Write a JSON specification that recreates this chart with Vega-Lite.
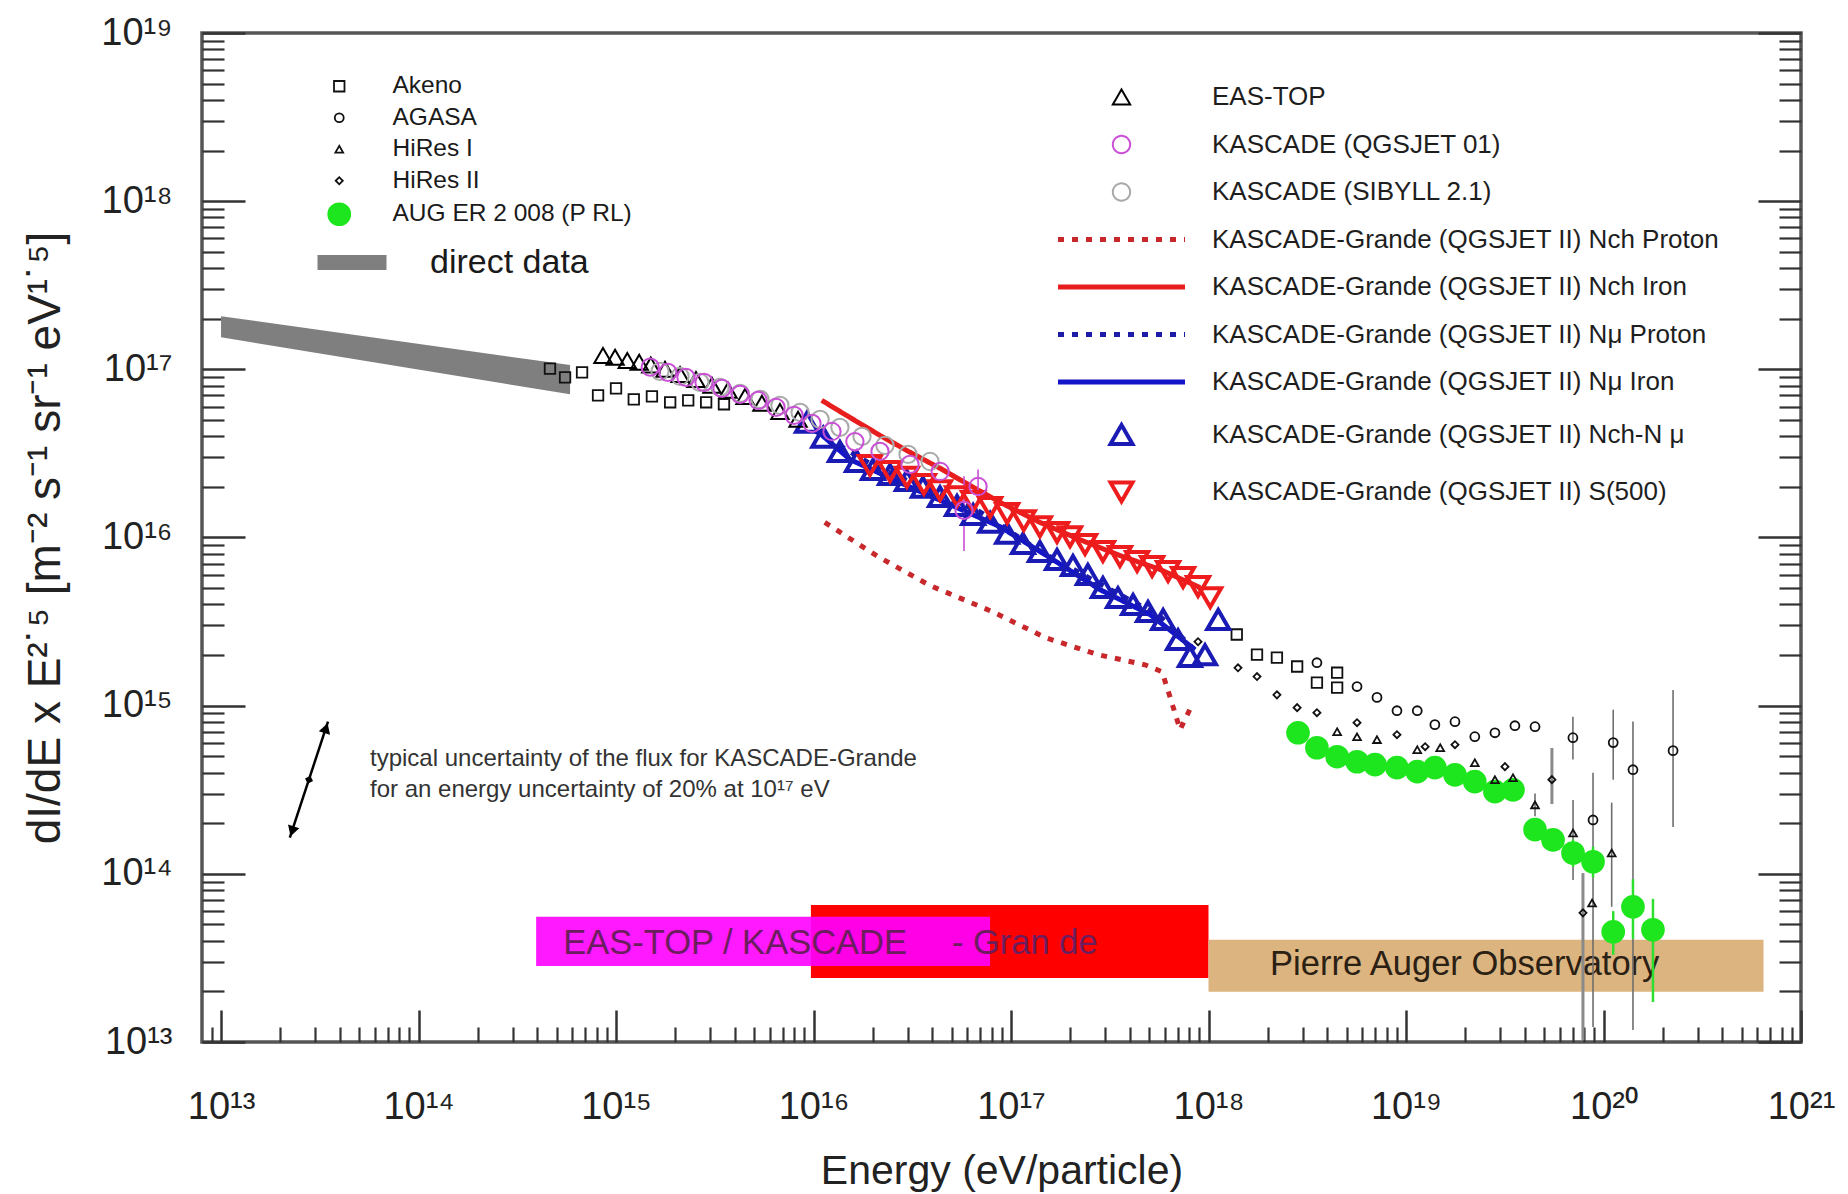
{
  "$schema": "https://vega.github.io/schema/vega-lite/v6.json",
  "width": 1599,
  "height": 1009,
  "autosize": {"type": "none"},
  "padding": {"left": 202, "top": 33, "right": 47, "bottom": 152},
  "background": "white",
  "config": {
    "font": "Liberation Sans",
    "view": {"stroke": "#555555", "strokeWidth": 3.5},
    "axis": {"grid": false, "domain": false, "labelFont": "Liberation Sans", "titleFont": "Liberation Sans"},
    "legend": {"labelFont": "Liberation Sans"}
  },
  "datasets": {
    "axd": [{"E": 1e15, "F": 1e15}],
    "bands": [
      {"band": "KASCADE-Grande", "E": 9.7e15, "E2": 1e18, "F": 2.4e13, "F2": 6.53e13},
      {"band": "EAS-TOP/KASCADE", "E": 3.94e14, "E2": 7.83e16, "F": 2.83e13, "F2": 5.55e13},
      {"band": "Pierre Auger Observatory", "E": 1e18, "E2": 6.46e20, "F": 1.99e13, "F2": 4.05e13}
    ],
    "notes": [
      {"label": "EAS-TOP / KASCADE", "E": 5.4e14, "F": 3.8e13},
      {"label": "- Gran de", "E": 5.02e16, "F": 3.8e13},
      {"label": "Pierre Auger Observatory", "E": 2.05e18, "F": 2.87e13},
      {"label": "typical uncertainty of the flux for KASCADE-Grande", "E": 5.68e13, "F": 4.84e14},
      {"label": "for an energy uncertainty of 20% at 10¹⁷ eV", "E": 5.68e13, "F": 3.16e14}
    ],
    "arrow": [{"E": 2.23e13, "F": 1.64e14, "E2": 3.48e13, "F2": 8.04e14}],
    "heads": [{"end": "top", "E": 3.40e13, "F": 7.35e14}, {"end": "bottom", "E": 2.29e13, "F": 1.79e14}],
    "mid": [{"E": 2.79e13, "F": 3.63e14}],
    "direct": [
      {"series": "direct data", "E": 1e13, "F": 2.07e17, "F2": 1.55e17},
      {"series": "direct data", "E": 5.85e14, "F": 1.06e17, "F2": 7.1e16}
    ],
    "left": [
      {"series": "AUG ER 2 008 (P RL)", "E": 2.84e18, "F": 6.9e14},
      {"series": "AUG ER 2 008 (P RL)", "E": 3.54e18, "F": 5.62e14},
      {"series": "AUG ER 2 008 (P RL)", "E": 4.48e18, "F": 4.97e14},
      {"series": "AUG ER 2 008 (P RL)", "E": 5.65e18, "F": 4.64e14},
      {"series": "AUG ER 2 008 (P RL)", "E": 6.97e18, "F": 4.46e14},
      {"series": "AUG ER 2 008 (P RL)", "E": 9.0e18, "F": 4.28e14},
      {"series": "AUG ER 2 008 (P RL)", "E": 1.14e19, "F": 4.05e14},
      {"series": "AUG ER 2 008 (P RL)", "E": 1.40e19, "F": 4.28e14},
      {"series": "AUG ER 2 008 (P RL)", "E": 1.77e19, "F": 3.88e14},
      {"series": "AUG ER 2 008 (P RL)", "E": 2.23e19, "F": 3.53e14},
      {"series": "AUG ER 2 008 (P RL)", "E": 2.82e19, "F": 3.08e14},
      {"series": "AUG ER 2 008 (P RL)", "E": 3.48e19, "F": 3.16e14},
      {"series": "AUG ER 2 008 (P RL)", "E": 4.5e19, "F": 1.83e14},
      {"series": "AUG ER 2 008 (P RL)", "E": 5.55e19, "F": 1.59e14},
      {"series": "AUG ER 2 008 (P RL)", "E": 7.01e19, "F": 1.33e14},
      {"series": "AUG ER 2 008 (P RL)", "E": 8.85e19, "F": 1.18e14},
      {"series": "AUG ER 2 008 (P RL)", "E": 1.12e20, "F": 4.52e13},
      {"series": "AUG ER 2 008 (P RL)", "E": 1.41e20, "F": 6.37e13},
      {"series": "AUG ER 2 008 (P RL)", "E": 1.78e20, "F": 4.65e13},
      {"series": "Akeno", "E": 4.63e14, "F": 1.01e17},
      {"series": "Akeno", "E": 5.52e14, "F": 8.96e16},
      {"series": "Akeno", "E": 6.73e14, "F": 9.6e16},
      {"series": "Akeno", "E": 8.11e14, "F": 7.0e16},
      {"series": "Akeno", "E": 1.0e15, "F": 7.71e16},
      {"series": "Akeno", "E": 1.23e15, "F": 6.63e16},
      {"series": "Akeno", "E": 1.52e15, "F": 6.9e16},
      {"series": "Akeno", "E": 1.88e15, "F": 6.37e16},
      {"series": "Akeno", "E": 2.32e15, "F": 6.54e16},
      {"series": "Akeno", "E": 2.86e15, "F": 6.37e16},
      {"series": "Akeno", "E": 3.52e15, "F": 6.2e16},
      {"series": "Akeno", "E": 1.39e18, "F": 2.65e15},
      {"series": "Akeno", "E": 1.76e18, "F": 2.01e15},
      {"series": "Akeno", "E": 2.22e18, "F": 1.93e15},
      {"series": "Akeno", "E": 2.81e18, "F": 1.71e15},
      {"series": "Akeno", "E": 3.54e18, "F": 1.37e15},
      {"series": "Akeno", "E": 4.48e18, "F": 1.57e15},
      {"series": "Akeno", "E": 4.48e18, "F": 1.28e15},
      {"series": "AGASA", "E": 3.54e18, "F": 1.80e15},
      {"series": "AGASA", "E": 5.65e18, "F": 1.30e15},
      {"series": "AGASA", "E": 7.13e18, "F": 1.12e15},
      {"series": "AGASA", "E": 9.0e18, "F": 9.33e14},
      {"series": "AGASA", "E": 1.14e19, "F": 9.33e14},
      {"series": "AGASA", "E": 1.40e19, "F": 7.71e14},
      {"series": "AGASA", "E": 1.77e19, "F": 8.03e14},
      {"series": "AGASA", "E": 2.23e19, "F": 6.54e14},
      {"series": "AGASA", "E": 2.82e19, "F": 6.9e14},
      {"series": "AGASA", "E": 3.56e19, "F": 7.6e14},
      {"series": "AGASA", "E": 4.5e19, "F": 7.5e14},
      {"series": "AGASA", "E": 7.0e19, "F": 6.45e14},
      {"series": "AGASA", "E": 8.85e19, "F": 2.09e14},
      {"series": "AGASA", "E": 1.12e20, "F": 6.03e14},
      {"series": "AGASA", "E": 1.41e20, "F": 4.16e14},
      {"series": "AGASA", "E": 2.25e20, "F": 5.40e14},
      {"series": "HiRes I", "E": 4.48e18, "F": 7.0e14},
      {"series": "HiRes I", "E": 5.65e18, "F": 6.53e14},
      {"series": "HiRes I", "E": 7.13e18, "F": 6.28e14},
      {"series": "HiRes I", "E": 1.14e19, "F": 5.47e14},
      {"series": "HiRes I", "E": 1.49e19, "F": 5.62e14},
      {"series": "HiRes I", "E": 2.23e19, "F": 4.58e14},
      {"series": "HiRes I", "E": 2.82e19, "F": 3.63e14},
      {"series": "HiRes I", "E": 3.48e19, "F": 3.73e14},
      {"series": "HiRes I", "E": 4.5e19, "F": 2.57e14},
      {"series": "HiRes I", "E": 7.01e19, "F": 1.75e14},
      {"series": "HiRes I", "E": 8.75e19, "F": 6.71e13},
      {"series": "HiRes I", "E": 1.10e20, "F": 1.33e14},
      {"series": "HiRes II", "E": 8.85e17, "F": 2.40e15},
      {"series": "HiRes II", "E": 1.41e18, "F": 1.68e15},
      {"series": "HiRes II", "E": 1.76e18, "F": 1.49e15},
      {"series": "HiRes II", "E": 2.22e18, "F": 1.16e15},
      {"series": "HiRes II", "E": 2.81e18, "F": 9.73e14},
      {"series": "HiRes II", "E": 3.54e18, "F": 9.08e14},
      {"series": "HiRes II", "E": 5.65e18, "F": 7.92e14},
      {"series": "HiRes II", "E": 9.0e18, "F": 6.72e14},
      {"series": "HiRes II", "E": 1.25e19, "F": 5.7e14},
      {"series": "HiRes II", "E": 1.77e19, "F": 5.86e14},
      {"series": "HiRes II", "E": 3.17e19, "F": 4.34e14},
      {"series": "HiRes II", "E": 5.48e19, "F": 3.63e14},
      {"series": "HiRes II", "E": 7.87e19, "F": 5.86e13}
    ],
    "lerr": [
      {"series": "AGASA", "E": 7.0e19, "Flo": 4.78e14, "Fhi": 8.6e14},
      {"series": "AGASA", "E": 8.85e19, "Flo": 1.23e13, "Fhi": 3.99e14},
      {"series": "AGASA", "E": 1.12e20, "Flo": 3.63e14, "Fhi": 9.46e14},
      {"series": "AGASA", "E": 1.41e20, "Flo": 1.18e13, "Fhi": 8.04e14},
      {"series": "AGASA", "E": 2.25e20, "Flo": 1.9e14, "Fhi": 1.24e15},
      {"series": "HiRes I", "E": 4.5e19, "Flo": 2.2e14, "Fhi": 3.0e14},
      {"series": "HiRes I", "E": 7.01e19, "Flo": 9.2e13, "Fhi": 2.75e14},
      {"series": "HiRes I", "E": 1.10e20, "Flo": 6.37e13, "Fhi": 2.65e14},
      {"series": "HiRes II", "E": 7.87e19, "Flo": 1.03e13, "Fhi": 1.01e14},
      {"series": "HiRes II", "E": 5.48e19, "Flo": 2.6e14, "Fhi": 5.6e14},
      {"series": "AUG ER 2 008 (P RL)", "E": 7.01e19, "Flo": 1.1e14, "Fhi": 1.6e14},
      {"series": "AUG ER 2 008 (P RL)", "E": 8.85e19, "Flo": 9.5e13, "Fhi": 1.45e14},
      {"series": "AUG ER 2 008 (P RL)", "E": 1.12e20, "Flo": 3.3e13, "Fhi": 6.0e13},
      {"series": "AUG ER 2 008 (P RL)", "E": 1.41e20, "Flo": 4.1e13, "Fhi": 9.3e13},
      {"series": "AUG ER 2 008 (P RL)", "E": 1.78e20, "Flo": 1.73e13, "Fhi": 7.1e13}
    ],
    "rerr": [
      {"series": "KASCADE (QGSJET 01)", "E": 6.81e16, "Flo": 1.57e16, "Fhi": 2.54e16},
      {"series": "KASCADE (QGSJET 01)", "E": 5.78e16, "Flo": 8.3e15, "Fhi": 2.31e16}
    ],
    "lines": [
      {"series": "KASCADE-Grande (QGSJET II) Nch Proton", "E": 1.14e16, "F": 1.23e16},
      {"series": "KASCADE-Grande (QGSJET II) Nch Proton", "E": 2.12e16, "F": 7.7e15},
      {"series": "KASCADE-Grande (QGSJET II) Nch Proton", "E": 3.89e16, "F": 5.18e15},
      {"series": "KASCADE-Grande (QGSJET II) Nch Proton", "E": 8.02e16, "F": 3.63e15},
      {"series": "KASCADE-Grande (QGSJET II) Nch Proton", "E": 1.49e17, "F": 2.54e15},
      {"series": "KASCADE-Grande (QGSJET II) Nch Proton", "E": 2.76e17, "F": 2.01e15},
      {"series": "KASCADE-Grande (QGSJET II) Nch Proton", "E": 4.77e17, "F": 1.75e15},
      {"series": "KASCADE-Grande (QGSJET II) Nch Proton", "E": 5.82e17, "F": 1.59e15},
      {"series": "KASCADE-Grande (QGSJET II) Nch Proton", "E": 6.38e17, "F": 1.13e15},
      {"series": "KASCADE-Grande (QGSJET II) Nch Proton", "E": 7.18e17, "F": 7.2e14},
      {"series": "KASCADE-Grande (QGSJET II) Nch Proton", "E": 8.25e17, "F": 1.01e15},
      {"series": "KASCADE-Grande (QGSJET II) Nch Iron", "E": 1.10e16, "F": 6.54e16},
      {"series": "KASCADE-Grande (QGSJET II) Nch Iron", "E": 1.53e16, "F": 5.17e16},
      {"series": "KASCADE-Grande (QGSJET II) Nch Iron", "E": 2.17e16, "F": 4.05e16},
      {"series": "KASCADE-Grande (QGSJET II) Nch Iron", "E": 3.08e16, "F": 3.21e16},
      {"series": "KASCADE-Grande (QGSJET II) Nch Iron", "E": 4.37e16, "F": 2.58e16},
      {"series": "KASCADE-Grande (QGSJET II) Nch Iron", "E": 6.2e16, "F": 2.04e16},
      {"series": "KASCADE-Grande (QGSJET II) Nch Iron", "E": 8.79e16, "F": 1.62e16},
      {"series": "KASCADE-Grande (QGSJET II) Nch Iron", "E": 1.40e17, "F": 1.23e16},
      {"series": "KASCADE-Grande (QGSJET II) Nch Iron", "E": 2.23e17, "F": 9.72e15},
      {"series": "KASCADE-Grande (QGSJET II) Nch Iron", "E": 3.56e17, "F": 7.81e15},
      {"series": "KASCADE-Grande (QGSJET II) Nch Iron", "E": 5.68e17, "F": 6.46e15},
      {"series": "KASCADE-Grande (QGSJET II) Nch Iron", "E": 9.06e17, "F": 5.04e15},
      {"series": "KASCADE-Grande (QGSJET II) Nμ Proton", "E": 1.02e16, "F": 4.3e16},
      {"series": "KASCADE-Grande (QGSJET II) Nμ Proton", "E": 1.93e16, "F": 2.75e16},
      {"series": "KASCADE-Grande (QGSJET II) Nμ Proton", "E": 3.46e16, "F": 2.02e16},
      {"series": "KASCADE-Grande (QGSJET II) Nμ Proton", "E": 6.97e16, "F": 1.42e16},
      {"series": "KASCADE-Grande (QGSJET II) Nμ Proton", "E": 1.40e17, "F": 8.3e15},
      {"series": "KASCADE-Grande (QGSJET II) Nμ Proton", "E": 2.82e17, "F": 5.3e15},
      {"series": "KASCADE-Grande (QGSJET II) Nμ Proton", "E": 5.68e17, "F": 3.4e15},
      {"series": "KASCADE-Grande (QGSJET II) Nμ Proton", "E": 9.06e17, "F": 2.0e15},
      {"series": "KASCADE-Grande (QGSJET II) Nμ Iron", "E": 1.02e16, "F": 4.4e16},
      {"series": "KASCADE-Grande (QGSJET II) Nμ Iron", "E": 1.53e16, "F": 2.91e16},
      {"series": "KASCADE-Grande (QGSJET II) Nμ Iron", "E": 2.74e16, "F": 2.12e16},
      {"series": "KASCADE-Grande (QGSJET II) Nμ Iron", "E": 4.91e16, "F": 1.57e16},
      {"series": "KASCADE-Grande (QGSJET II) Nμ Iron", "E": 8.79e16, "F": 1.16e16},
      {"series": "KASCADE-Grande (QGSJET II) Nμ Iron", "E": 1.57e17, "F": 7.6e15},
      {"series": "KASCADE-Grande (QGSJET II) Nμ Iron", "E": 2.82e17, "F": 4.9e15},
      {"series": "KASCADE-Grande (QGSJET II) Nμ Iron", "E": 5.06e17, "F": 3.48e15},
      {"series": "KASCADE-Grande (QGSJET II) Nμ Iron", "E": 8.55e17, "F": 2.15e15}
    ],
    "right": [
      {"series": "KASCADE-Grande (QGSJET II) Nch-N μ", "E": 9.27e15, "F": 4.84e16},
      {"series": "KASCADE-Grande (QGSJET II) Nch-N μ", "E": 1.12e16, "F": 3.94e16},
      {"series": "KASCADE-Grande (QGSJET II) Nch-N μ", "E": 1.36e16, "F": 3.25e16},
      {"series": "KASCADE-Grande (QGSJET II) Nch-N μ", "E": 1.66e16, "F": 2.83e16},
      {"series": "KASCADE-Grande (QGSJET II) Nch-N μ", "E": 2.00e16, "F": 2.54e16},
      {"series": "KASCADE-Grande (QGSJET II) Nch-N μ", "E": 2.44e16, "F": 2.37e16},
      {"series": "KASCADE-Grande (QGSJET II) Nch-N μ", "E": 2.97e16, "F": 2.18e16},
      {"series": "KASCADE-Grande (QGSJET II) Nch-N μ", "E": 3.58e16, "F": 1.99e16},
      {"series": "KASCADE-Grande (QGSJET II) Nch-N μ", "E": 4.37e16, "F": 1.75e16},
      {"series": "KASCADE-Grande (QGSJET II) Nch-N μ", "E": 5.33e16, "F": 1.55e16},
      {"series": "KASCADE-Grande (QGSJET II) Nch-N μ", "E": 6.43e16, "F": 1.37e16},
      {"series": "KASCADE-Grande (QGSJET II) Nch-N μ", "E": 7.84e16, "F": 1.23e16},
      {"series": "KASCADE-Grande (QGSJET II) Nch-N μ", "E": 9.56e16, "F": 1.06e16},
      {"series": "KASCADE-Grande (QGSJET II) Nch-N μ", "E": 1.15e17, "F": 9.2e15},
      {"series": "KASCADE-Grande (QGSJET II) Nch-N μ", "E": 1.40e17, "F": 8.26e15},
      {"series": "KASCADE-Grande (QGSJET II) Nch-N μ", "E": 1.71e17, "F": 7.4e15},
      {"series": "KASCADE-Grande (QGSJET II) Nch-N μ", "E": 2.06e17, "F": 6.81e15},
      {"series": "KASCADE-Grande (QGSJET II) Nch-N μ", "E": 2.45e17, "F": 6.03e15},
      {"series": "KASCADE-Grande (QGSJET II) Nch-N μ", "E": 2.92e17, "F": 5.04e15},
      {"series": "KASCADE-Grande (QGSJET II) Nch-N μ", "E": 3.48e17, "F": 4.39e15},
      {"series": "KASCADE-Grande (QGSJET II) Nch-N μ", "E": 4.15e17, "F": 3.99e15},
      {"series": "KASCADE-Grande (QGSJET II) Nch-N μ", "E": 4.94e17, "F": 3.63e15},
      {"series": "KASCADE-Grande (QGSJET II) Nch-N μ", "E": 5.89e17, "F": 3.25e15},
      {"series": "KASCADE-Grande (QGSJET II) Nch-N μ", "E": 7.01e17, "F": 2.47e15},
      {"series": "KASCADE-Grande (QGSJET II) Nch-N μ", "E": 8.05e17, "F": 1.96e15},
      {"series": "KASCADE-Grande (QGSJET II) Nch-N μ", "E": 9.6e17, "F": 2.01e15},
      {"series": "KASCADE-Grande (QGSJET II) Nch-N μ", "E": 1.12e18, "F": 3.25e15},
      {"series": "KASCADE-Grande (QGSJET II) S(500)", "E": 1.93e16, "F": 2.68e16},
      {"series": "KASCADE-Grande (QGSJET II) S(500)", "E": 2.44e16, "F": 2.47e16},
      {"series": "KASCADE-Grande (QGSJET II) S(500)", "E": 2.97e16, "F": 2.28e16},
      {"series": "KASCADE-Grande (QGSJET II) S(500)", "E": 3.62e16, "F": 2.07e16},
      {"series": "KASCADE-Grande (QGSJET II) S(500)", "E": 4.37e16, "F": 1.90e16},
      {"series": "KASCADE-Grande (QGSJET II) S(500)", "E": 5.33e16, "F": 1.75e16},
      {"series": "KASCADE-Grande (QGSJET II) S(500)", "E": 6.43e16, "F": 1.64e16},
      {"series": "KASCADE-Grande (QGSJET II) S(500)", "E": 7.84e16, "F": 1.51e16},
      {"series": "KASCADE-Grande (QGSJET II) S(500)", "E": 9.56e16, "F": 1.39e16},
      {"series": "KASCADE-Grande (QGSJET II) S(500)", "E": 1.16e17, "F": 1.26e16},
      {"series": "KASCADE-Grande (QGSJET II) S(500)", "E": 1.40e17, "F": 1.16e16},
      {"series": "KASCADE-Grande (QGSJET II) S(500)", "E": 1.71e17, "F": 1.07e16},
      {"series": "KASCADE-Grande (QGSJET II) S(500)", "E": 1.99e17, "F": 1.01e16},
      {"series": "KASCADE-Grande (QGSJET II) S(500)", "E": 2.37e17, "F": 9.08e15},
      {"series": "KASCADE-Grande (QGSJET II) S(500)", "E": 2.92e17, "F": 8.25e15},
      {"series": "KASCADE-Grande (QGSJET II) S(500)", "E": 3.56e17, "F": 7.71e15},
      {"series": "KASCADE-Grande (QGSJET II) S(500)", "E": 4.35e17, "F": 7.2e15},
      {"series": "KASCADE-Grande (QGSJET II) S(500)", "E": 5.18e17, "F": 6.72e15},
      {"series": "KASCADE-Grande (QGSJET II) S(500)", "E": 6.24e17, "F": 6.28e15},
      {"series": "KASCADE-Grande (QGSJET II) S(500)", "E": 7.43e17, "F": 5.78e15},
      {"series": "KASCADE-Grande (QGSJET II) S(500)", "E": 8.85e17, "F": 5.11e15},
      {"series": "KASCADE-Grande (QGSJET II) S(500)", "E": 1.02e18, "F": 4.39e15},
      {"series": "EAS-TOP", "E": 8.59e14, "F": 1.21e17},
      {"series": "EAS-TOP", "E": 9.89e14, "F": 1.18e17},
      {"series": "EAS-TOP", "E": 1.14e15, "F": 1.13e17},
      {"series": "EAS-TOP", "E": 1.31e15, "F": 1.10e17},
      {"series": "EAS-TOP", "E": 1.50e15, "F": 1.06e17},
      {"series": "EAS-TOP", "E": 1.77e15, "F": 1.0e17},
      {"series": "EAS-TOP", "E": 2.11e15, "F": 9.33e16},
      {"series": "EAS-TOP", "E": 2.54e15, "F": 8.71e16},
      {"series": "EAS-TOP", "E": 3.06e15, "F": 8.03e16},
      {"series": "EAS-TOP", "E": 3.69e15, "F": 7.5e16},
      {"series": "EAS-TOP", "E": 4.50e15, "F": 6.9e16},
      {"series": "EAS-TOP", "E": 5.48e15, "F": 6.28e16},
      {"series": "EAS-TOP", "E": 6.76e15, "F": 5.62e16},
      {"series": "EAS-TOP", "E": 8.35e15, "F": 5.04e16},
      {"series": "KASCADE (SIBYLL 2.1)", "E": 1.67e15, "F": 9.73e16},
      {"series": "KASCADE (SIBYLL 2.1)", "E": 2.11e15, "F": 9.08e16},
      {"series": "KASCADE (SIBYLL 2.1)", "E": 2.66e15, "F": 8.37e16},
      {"series": "KASCADE (SIBYLL 2.1)", "E": 3.36e15, "F": 7.82e16},
      {"series": "KASCADE (SIBYLL 2.1)", "E": 4.25e15, "F": 7.2e16},
      {"series": "KASCADE (SIBYLL 2.1)", "E": 5.36e15, "F": 6.63e16},
      {"series": "KASCADE (SIBYLL 2.1)", "E": 6.76e15, "F": 6.1e16},
      {"series": "KASCADE (SIBYLL 2.1)", "E": 8.55e15, "F": 5.55e16},
      {"series": "KASCADE (SIBYLL 2.1)", "E": 1.08e16, "F": 5.04e16},
      {"series": "KASCADE (SIBYLL 2.1)", "E": 1.36e16, "F": 4.52e16},
      {"series": "KASCADE (SIBYLL 2.1)", "E": 1.76e16, "F": 3.99e16},
      {"series": "KASCADE (SIBYLL 2.1)", "E": 2.30e16, "F": 3.53e16},
      {"series": "KASCADE (SIBYLL 2.1)", "E": 3.01e16, "F": 3.12e16},
      {"series": "KASCADE (SIBYLL 2.1)", "E": 3.89e16, "F": 2.83e16},
      {"series": "KASCADE (QGSJET 01)", "E": 1.49e15, "F": 1.03e17},
      {"series": "KASCADE (QGSJET 01)", "E": 1.83e15, "F": 9.6e16},
      {"series": "KASCADE (QGSJET 01)", "E": 2.26e15, "F": 8.96e16},
      {"series": "KASCADE (QGSJET 01)", "E": 2.79e15, "F": 8.37e16},
      {"series": "KASCADE (QGSJET 01)", "E": 3.44e15, "F": 7.71e16},
      {"series": "KASCADE (QGSJET 01)", "E": 4.25e15, "F": 7.1e16},
      {"series": "KASCADE (QGSJET 01)", "E": 5.24e15, "F": 6.53e16},
      {"series": "KASCADE (QGSJET 01)", "E": 6.46e15, "F": 5.94e16},
      {"series": "KASCADE (QGSJET 01)", "E": 7.97e15, "F": 5.32e16},
      {"series": "KASCADE (QGSJET 01)", "E": 9.82e15, "F": 4.77e16},
      {"series": "KASCADE (QGSJET 01)", "E": 1.24e16, "F": 4.27e16},
      {"series": "KASCADE (QGSJET 01)", "E": 1.62e16, "F": 3.72e16},
      {"series": "KASCADE (QGSJET 01)", "E": 2.17e16, "F": 3.25e16},
      {"series": "KASCADE (QGSJET 01)", "E": 3.08e16, "F": 2.72e16},
      {"series": "KASCADE (QGSJET 01)", "E": 4.38e16, "F": 2.47e16},
      {"series": "KASCADE (QGSJET 01)", "E": 5.78e16, "F": 1.45e16},
      {"series": "KASCADE (QGSJET 01)", "E": 6.81e16, "F": 2.01e16}
    ]
  },
  "encoding": {
    "x": {"field": "E", "type": "quantitative", "scale": {"type": "log", "domain": [8.01e12, 1e21], "nice": false}, "axis": null},
    "y": {"field": "F", "type": "quantitative", "scale": {"type": "log", "domain": [1e13, 1e19], "nice": false}, "axis": null}
  },
  "layer": [
    {
      "data": {"name": "bands"},
      "transform": [{"filter": "datum.band === 'KASCADE-Grande'"}],
      "mark": {"type": "rect", "color": "#ff0000"},
      "encoding": {"x2": {"field": "E2"}, "y2": {"field": "F2"}}
    },
    {
      "data": {"name": "bands"},
      "transform": [{"filter": "datum.band === 'EAS-TOP/KASCADE'"}],
      "mark": {"type": "rect", "color": "#ff00ff", "opacity": 0.9},
      "encoding": {"x2": {"field": "E2"}, "y2": {"field": "F2"}}
    },
    {
      "data": {"name": "bands"},
      "transform": [{"filter": "datum.band === 'Pierre Auger Observatory'"}],
      "mark": {"type": "rect", "color": "#dcb47f"},
      "encoding": {"x2": {"field": "E2"}, "y2": {"field": "F2"}}
    },
    {
      "data": {"name": "notes"},
      "transform": [{"filter": {"field": "label", "oneOf": ["EAS-TOP / KASCADE", "- Gran de"]}}],
      "mark": {"type": "text", "align": "left", "baseline": "middle", "fontSize": 34.5, "color": "#6b1d5e"},
      "encoding": {"text": {"field": "label"}}
    },
    {
      "data": {"name": "notes"},
      "transform": [{"filter": "datum.label === 'Pierre Auger Observatory'"}],
      "mark": {"type": "text", "align": "left", "baseline": "middle", "fontSize": 34.5, "color": "#2b2014"},
      "encoding": {"text": {"field": "label"}}
    },
    {
      "data": {"name": "notes"},
      "transform": [{"filter": "indexof(datum.label, 'uncertainty') >= 0"}],
      "mark": {"type": "text", "align": "left", "baseline": "middle", "fontSize": 24, "color": "#333333"},
      "encoding": {"text": {"field": "label"}}
    },
    {
      "data": {"name": "arrow"},
      "mark": {"type": "rule", "color": "#000000", "strokeWidth": 2.5},
      "encoding": {"x2": {"field": "E2"}, "y2": {"field": "F2"}}
    },
    {
      "data": {"name": "heads"},
      "transform": [{"filter": "datum.end === 'top'"}],
      "mark": {"type": "point", "shape": "triangle-up", "filled": true, "color": "#000000", "opacity": 1, "size": 140, "angle": 18}
    },
    {
      "data": {"name": "heads"},
      "transform": [{"filter": "datum.end === 'bottom'"}],
      "mark": {"type": "point", "shape": "triangle-down", "filled": true, "color": "#000000", "opacity": 1, "size": 140, "angle": 18}
    },
    {
      "data": {"name": "mid"},
      "mark": {"type": "point", "shape": "diamond", "filled": true, "color": "#000000", "opacity": 1, "size": 70, "angle": 18}
    },
    {
      "data": {"name": "direct"},
      "mark": {"type": "area", "opacity": 1},
      "encoding": {
        "y2": {"field": "F2"},
        "fill": {
          "field": "series", "type": "nominal",
          "scale": {"domain": ["direct data"], "range": ["#7f7f7f"]},
          "legend": {"title": null, "orient": "none", "legendX": 115.5, "legendY": 195, "padding": 0, "labelFontSize": 34, "labelColor": "#1a1a1a", "labelOffset": 43.5, "labelLimit": 1000, "symbolType": "M-1,-0.22H1V0.22H-1Z", "symbolSize": 4761, "symbolStrokeWidth": 0, "symbolOffset": 0}
        }
      }
    },
    {
      "layer": [
        {
          "data": {"name": "lerr"},
          "transform": [{"filter": "datum.series === 'AGASA' || datum.series === 'HiRes I'"}],
          "mark": {"type": "rule", "color": "#6e6e6e", "strokeWidth": 1.6},
          "encoding": {"y": {"field": "Flo", "type": "quantitative"}, "y2": {"field": "Fhi"}}
        },
        {
          "data": {"name": "lerr"},
          "transform": [{"filter": "datum.series === 'HiRes II'"}],
          "mark": {"type": "rule", "color": "#8a8a8a", "strokeWidth": 3},
          "encoding": {"y": {"field": "Flo", "type": "quantitative"}, "y2": {"field": "Fhi"}}
        },
        {
          "data": {"name": "lerr"},
          "transform": [{"filter": "datum.series === 'AUG ER 2 008 (P RL)'"}],
          "mark": {"type": "rule", "color": "#2ee02e", "strokeWidth": 2.5},
          "encoding": {"y": {"field": "Flo", "type": "quantitative"}, "y2": {"field": "Fhi"}}
        },
        {
          "data": {"name": "left"},
          "mark": {"type": "point", "opacity": 1, "strokeWidth": 1.8},
          "encoding": {
            "shape": {"field": "series", "type": "nominal",
              "scale": {"domain": ["Akeno", "AGASA", "HiRes I", "HiRes II", "AUG ER 2 008 (P RL)"], "range": ["square", "circle", "triangle-up", "diamond", "circle"]},
              "legend": {"title": null, "orient": "none", "legendX": 125, "legendY": 41, "padding": 0, "labelFontSize": 24.5, "labelColor": "#1a1a1a", "labelOffset": 41, "labelLimit": 1000, "rowPadding": 6.5, "symbolOffset": 0, "symbolStrokeWidth": 1.8}},
            "stroke": {"field": "series", "type": "nominal",
              "scale": {"domain": ["Akeno", "AGASA", "HiRes I", "HiRes II", "AUG ER 2 008 (P RL)"], "range": ["#111111", "#111111", "#111111", "#111111", "#1ee61e"]},
              "legend": {"title": null, "orient": "none", "legendX": 125, "legendY": 41, "padding": 0, "labelFontSize": 24.5, "labelColor": "#1a1a1a", "labelOffset": 41, "labelLimit": 1000, "rowPadding": 6.5, "symbolOffset": 0, "symbolStrokeWidth": 1.8}},
            "fill": {"field": "series", "type": "nominal",
              "scale": {"domain": ["Akeno", "AGASA", "HiRes I", "HiRes II", "AUG ER 2 008 (P RL)"], "range": ["transparent", "transparent", "transparent", "transparent", "#1ee61e"]},
              "legend": {"title": null, "orient": "none", "legendX": 125, "legendY": 41, "padding": 0, "labelFontSize": 24.5, "labelColor": "#1a1a1a", "labelOffset": 41, "labelLimit": 1000, "rowPadding": 6.5, "symbolOffset": 0, "symbolStrokeWidth": 1.8}},
            "size": {"field": "series", "type": "nominal",
              "scale": {"type": "ordinal", "domain": ["Akeno", "AGASA", "HiRes I", "HiRes II", "AUG ER 2 008 (P RL)"], "range": [110, 80, 60, 50, 480]},
              "legend": {"title": null, "orient": "none", "legendX": 125, "legendY": 41, "padding": 0, "labelFontSize": 24.5, "labelColor": "#1a1a1a", "labelOffset": 41, "labelLimit": 1000, "rowPadding": 6.5, "symbolOffset": 0, "symbolStrokeWidth": 1.8}}
          }
        }
      ]
    },
    {
      "layer": [
        {
          "data": {"name": "lines"},
          "mark": {"type": "line", "opacity": 1, "strokeCap": "butt"},
          "encoding": {
            "stroke": {"field": "series", "type": "nominal",
              "scale": {"domain": ["EAS-TOP", "KASCADE (QGSJET 01)", "KASCADE (SIBYLL 2.1)", "KASCADE-Grande (QGSJET II) Nch Proton", "KASCADE-Grande (QGSJET II) Nch Iron", "KASCADE-Grande (QGSJET II) Nμ Proton", "KASCADE-Grande (QGSJET II) Nμ Iron", "KASCADE-Grande (QGSJET II) Nch-N μ", "KASCADE-Grande (QGSJET II) S(500)"],
                "range": ["#000000", "#c94fd6", "#a9a9a9", "#c8282c", "#e81e1e", "#1c1ca8", "#1414c8", "#1a1ab4", "#ee1c1c"]},
              "legend": {"title": null, "orient": "none", "legendX": 906.5, "legendY": 51, "padding": 0, "labelFontSize": 26, "labelColor": "#1e1e1e", "labelOffset": 77.5, "labelLimit": 1000, "rowPadding": 21.5, "symbolOffset": 0, "symbolFillColor": "transparent"}},
            "strokeDash": {"field": "series", "type": "nominal",
              "scale": {"domain": ["EAS-TOP", "KASCADE (QGSJET 01)", "KASCADE (SIBYLL 2.1)", "KASCADE-Grande (QGSJET II) Nch Proton", "KASCADE-Grande (QGSJET II) Nch Iron", "KASCADE-Grande (QGSJET II) Nμ Proton", "KASCADE-Grande (QGSJET II) Nμ Iron", "KASCADE-Grande (QGSJET II) Nch-N μ", "KASCADE-Grande (QGSJET II) S(500)"],
                "range": [[1, 0], [1, 0], [1, 0], [6, 8], [1, 0], [6, 8], [1, 0], [1, 0], [1, 0]]},
              "legend": {"title": null, "orient": "none", "legendX": 906.5, "legendY": 51, "padding": 0, "labelFontSize": 26, "labelColor": "#1e1e1e", "labelOffset": 77.5, "labelLimit": 1000, "rowPadding": 21.5, "symbolOffset": 0, "symbolFillColor": "transparent"}},
            "strokeWidth": {"field": "series", "type": "nominal",
              "scale": {"type": "ordinal", "domain": ["EAS-TOP", "KASCADE (QGSJET 01)", "KASCADE (SIBYLL 2.1)", "KASCADE-Grande (QGSJET II) Nch Proton", "KASCADE-Grande (QGSJET II) Nch Iron", "KASCADE-Grande (QGSJET II) Nμ Proton", "KASCADE-Grande (QGSJET II) Nμ Iron", "KASCADE-Grande (QGSJET II) Nch-N μ", "KASCADE-Grande (QGSJET II) S(500)"],
                "range": [2, 2, 2, 5, 5, 5, 5, 4, 4]},
              "legend": {"title": null, "orient": "none", "legendX": 906.5, "legendY": 51, "padding": 0, "labelFontSize": 26, "labelColor": "#1e1e1e", "labelOffset": 77.5, "labelLimit": 1000, "rowPadding": 21.5, "symbolOffset": 0, "symbolFillColor": "transparent"}}
          }
        },
        {
          "data": {"name": "rerr"},
          "mark": {"type": "rule", "color": "#c94fd6", "strokeWidth": 1.6},
          "encoding": {"y": {"field": "Flo", "type": "quantitative"}, "y2": {"field": "Fhi"}}
        },
        {
          "data": {"name": "right"},
          "mark": {"type": "point", "filled": false, "opacity": 1},
          "encoding": {
            "shape": {"field": "series", "type": "nominal",
              "scale": {"domain": ["EAS-TOP", "KASCADE (QGSJET 01)", "KASCADE (SIBYLL 2.1)", "KASCADE-Grande (QGSJET II) Nch Proton", "KASCADE-Grande (QGSJET II) Nch Iron", "KASCADE-Grande (QGSJET II) Nμ Proton", "KASCADE-Grande (QGSJET II) Nμ Iron", "KASCADE-Grande (QGSJET II) Nch-N μ", "KASCADE-Grande (QGSJET II) S(500)"],
                "range": ["triangle-up", "circle", "circle", "M-6.35,0H6.35", "M-6.35,0H6.35", "M-6.35,0H6.35", "M-6.35,0H6.35", "triangle-up", "triangle-down"]},
              "legend": {"title": null, "orient": "none", "legendX": 906.5, "legendY": 51, "padding": 0, "labelFontSize": 26, "labelColor": "#1e1e1e", "labelOffset": 77.5, "labelLimit": 1000, "rowPadding": 21.5, "symbolOffset": 0, "symbolFillColor": "transparent"}},
            "stroke": {"field": "series", "type": "nominal",
              "scale": {"domain": ["EAS-TOP", "KASCADE (QGSJET 01)", "KASCADE (SIBYLL 2.1)", "KASCADE-Grande (QGSJET II) Nch Proton", "KASCADE-Grande (QGSJET II) Nch Iron", "KASCADE-Grande (QGSJET II) Nμ Proton", "KASCADE-Grande (QGSJET II) Nμ Iron", "KASCADE-Grande (QGSJET II) Nch-N μ", "KASCADE-Grande (QGSJET II) S(500)"],
                "range": ["#000000", "#c94fd6", "#a9a9a9", "#c8282c", "#e81e1e", "#1c1ca8", "#1414c8", "#1a1ab4", "#ee1c1c"]},
              "legend": {"title": null, "orient": "none", "legendX": 906.5, "legendY": 51, "padding": 0, "labelFontSize": 26, "labelColor": "#1e1e1e", "labelOffset": 77.5, "labelLimit": 1000, "rowPadding": 21.5, "symbolOffset": 0, "symbolFillColor": "transparent"}},
            "size": {"field": "series", "type": "nominal",
              "scale": {"type": "ordinal", "domain": ["EAS-TOP", "KASCADE (QGSJET 01)", "KASCADE (SIBYLL 2.1)", "KASCADE-Grande (QGSJET II) Nch Proton", "KASCADE-Grande (QGSJET II) Nch Iron", "KASCADE-Grande (QGSJET II) Nμ Proton", "KASCADE-Grande (QGSJET II) Nμ Iron", "KASCADE-Grande (QGSJET II) Nch-N μ", "KASCADE-Grande (QGSJET II) S(500)"],
                "range": [300, 300, 300, 400, 400, 400, 400, 480, 480]},
              "legend": {"title": null, "orient": "none", "legendX": 906.5, "legendY": 51, "padding": 0, "labelFontSize": 26, "labelColor": "#1e1e1e", "labelOffset": 77.5, "labelLimit": 1000, "rowPadding": 21.5, "symbolOffset": 0, "symbolFillColor": "transparent"}},
            "strokeWidth": {"field": "series", "type": "nominal",
              "scale": {"type": "ordinal", "domain": ["EAS-TOP", "KASCADE (QGSJET 01)", "KASCADE (SIBYLL 2.1)", "KASCADE-Grande (QGSJET II) Nch Proton", "KASCADE-Grande (QGSJET II) Nch Iron", "KASCADE-Grande (QGSJET II) Nμ Proton", "KASCADE-Grande (QGSJET II) Nμ Iron", "KASCADE-Grande (QGSJET II) Nch-N μ", "KASCADE-Grande (QGSJET II) S(500)"],
                "range": [2, 2, 2, 5, 5, 5, 5, 4, 4]},
              "legend": {"title": null, "orient": "none", "legendX": 906.5, "legendY": 51, "padding": 0, "labelFontSize": 26, "labelColor": "#1e1e1e", "labelOffset": 77.5, "labelLimit": 1000, "rowPadding": 21.5, "symbolOffset": 0, "symbolFillColor": "transparent"}}
          }
        }
      ]
    },
    {
      "data": {"name": "axd"},
      "mark": {"type": "point", "opacity": 0},
      "encoding": {"x": {"field": "E", "type": "quantitative", "axis": {
        "orient": "bottom", "values": [1e13, 1e14, 1e15, 1e16, 1e17, 1e18, 1e19, 1e20, 1e21],
        "ticks": false, "domain": false, "grid": false,
        "labelExpr": "'10' + ['⁰','¹','²','³','⁴','⁵','⁶','⁷','⁸','⁹'][floor(round(log(datum.value)/LN10)/10)] + ['⁰','¹','²','³','⁴','⁵','⁶','⁷','⁸','⁹'][round(log(datum.value)/LN10)%10]",
        "labelFontSize": 38, "labelColor": "#222222", "labelPadding": 46, "labelFlush": false, "labelOverlap": false, "labelBound": false,
        "title": "Energy (eV/particle)", "titleFontSize": 41, "titleFontWeight": "normal", "titleColor": "#222222",
        "titleX": 799.5, "titleY": 141, "titleAlign": "center", "titleBaseline": "alphabetic"}}}
    },
    {
      "data": {"name": "axd"},
      "mark": {"type": "point", "opacity": 0},
      "encoding": {"x": {"field": "E", "type": "quantitative", "axis": {
        "orient": "bottom", "values": [1e13, 1e14, 1e15, 1e16, 1e17, 1e18, 1e19, 1e20, 1e21],
        "labels": false, "domain": false, "grid": false, "ticks": true, "tickSize": -32, "tickWidth": 2.5, "tickColor": "#333333", "title": null}}}
    },
    {
      "data": {"name": "axd"},
      "mark": {"type": "point", "opacity": 0},
      "encoding": {"x": {"field": "E", "type": "quantitative", "axis": {
        "orient": "bottom",
        "values": [9e12, 2e13, 3e13, 4e13, 5e13, 6e13, 7e13, 8e13, 9e13, 2e14, 3e14, 4e14, 5e14, 6e14, 7e14, 8e14, 9e14, 2e15, 3e15, 4e15, 5e15, 6e15, 7e15, 8e15, 9e15, 2e16, 3e16, 4e16, 5e16, 6e16, 7e16, 8e16, 9e16, 2e17, 3e17, 4e17, 5e17, 6e17, 7e17, 8e17, 9e17, 2e18, 3e18, 4e18, 5e18, 6e18, 7e18, 8e18, 9e18, 2e19, 3e19, 4e19, 5e19, 6e19, 7e19, 8e19, 9e19, 2e20, 3e20, 4e20, 5e20, 6e20, 7e20, 8e20, 9e20],
        "labels": false, "domain": false, "grid": false, "ticks": true, "tickSize": -15, "tickWidth": 2.2, "tickColor": "#333333", "title": null}}}
    },
    {
      "data": {"name": "axd"},
      "mark": {"type": "point", "opacity": 0},
      "encoding": {"y": {"field": "F", "type": "quantitative", "axis": {
        "orient": "left", "values": [1e13, 1e14, 1e15, 1e16, 1e17, 1e18, 1e19],
        "ticks": false, "domain": false, "grid": false,
        "labelExpr": "'10' + ['⁰','¹','²','³','⁴','⁵','⁶','⁷','⁸','⁹'][floor(round(log(datum.value)/LN10)/10)] + ['⁰','¹','²','³','⁴','⁵','⁶','⁷','⁸','⁹'][round(log(datum.value)/LN10)%10]",
        "labelFontSize": 38, "labelColor": "#222222", "labelPadding": 30, "labelFlush": false, "labelOverlap": false, "labelBound": false,
        "title": "dI/dE x E²˙⁵ [m⁻² s⁻¹ sr⁻¹ eV¹˙⁵]", "titleFontSize": 46, "titleFontWeight": "normal", "titleColor": "#222222",
        "titleX": -157, "titleY": 504.5, "titleAngle": 270, "titleAlign": "center", "titleBaseline": "middle"}}}
    },
    {
      "data": {"name": "axd"},
      "mark": {"type": "point", "opacity": 0},
      "encoding": {"y": {"field": "F", "type": "quantitative", "axis": {
        "orient": "left", "values": [1e13, 1e14, 1e15, 1e16, 1e17, 1e18, 1e19],
        "labels": false, "domain": false, "grid": false, "ticks": true, "tickSize": -43, "tickWidth": 2.5, "tickColor": "#333333", "title": null}}}
    },
    {
      "data": {"name": "axd"},
      "mark": {"type": "point", "opacity": 0},
      "encoding": {"y": {"field": "F", "type": "quantitative", "axis": {
        "orient": "left",
        "values": [2e13, 3e13, 4e13, 5e13, 6e13, 7e13, 8e13, 9e13, 2e14, 3e14, 4e14, 5e14, 6e14, 7e14, 8e14, 9e14, 2e15, 3e15, 4e15, 5e15, 6e15, 7e15, 8e15, 9e15, 2e16, 3e16, 4e16, 5e16, 6e16, 7e16, 8e16, 9e16, 2e17, 3e17, 4e17, 5e17, 6e17, 7e17, 8e17, 9e17, 2e18, 3e18, 4e18, 5e18, 6e18, 7e18, 8e18, 9e18],
        "labels": false, "domain": false, "grid": false, "ticks": true, "tickSize": -22, "tickWidth": 2.2, "tickColor": "#333333", "title": null}}}
    },
    {
      "data": {"name": "axd"},
      "mark": {"type": "point", "opacity": 0},
      "encoding": {"y": {"field": "F", "type": "quantitative", "axis": {
        "orient": "right", "values": [1e13, 1e14, 1e15, 1e16, 1e17, 1e18, 1e19],
        "labels": false, "domain": false, "grid": false, "ticks": true, "tickSize": -43, "tickWidth": 2.5, "tickColor": "#333333", "title": null}}}
    },
    {
      "data": {"name": "axd"},
      "mark": {"type": "point", "opacity": 0},
      "encoding": {"y": {"field": "F", "type": "quantitative", "axis": {
        "orient": "right",
        "values": [2e13, 3e13, 4e13, 5e13, 6e13, 7e13, 8e13, 9e13, 2e14, 3e14, 4e14, 5e14, 6e14, 7e14, 8e14, 9e14, 2e15, 3e15, 4e15, 5e15, 6e15, 7e15, 8e15, 9e15, 2e16, 3e16, 4e16, 5e16, 6e16, 7e16, 8e16, 9e16, 2e17, 3e17, 4e17, 5e17, 6e17, 7e17, 8e17, 9e17, 2e18, 3e18, 4e18, 5e18, 6e18, 7e18, 8e18, 9e18],
        "labels": false, "domain": false, "grid": false, "ticks": true, "tickSize": -22, "tickWidth": 2.2, "tickColor": "#333333", "title": null}}}
    }
  ],
  "resolve": {
    "axis": {"x": "independent", "y": "independent"},
    "scale": {"fill": "independent", "stroke": "independent", "shape": "independent", "size": "independent", "strokeWidth": "independent", "strokeDash": "independent"}
  }
}
